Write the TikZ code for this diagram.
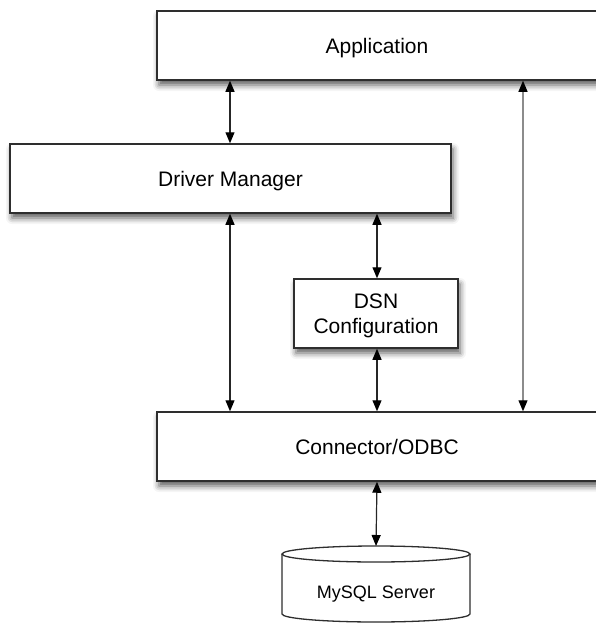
\documentclass[tikz,border=0pt]{standalone}
\usepackage{fontspec}
\setmainfont{Liberation Sans}
\usetikzlibrary{arrows.meta,shadows.blur}
\definecolor{edge}{HTML}{2E2E2E}
\tikzset{
  box/.style={draw=edge, line width=1.5pt, fill=white, inner sep=0pt,
    align=center, font=\fontsize{21}{25}\selectfont,
    blur shadow={shadow xshift=2pt, shadow yshift=-5pt, shadow blur radius=6pt, shadow opacity=65}},
  onel/.style={text height=15pt, text depth=0pt},
  tip/.style={Triangle[length=11pt,width=9pt,color=black]},
  arr/.style={draw=black!85, line width=1.2pt, {Triangle[length=11pt,width=9pt,color=black]}-{Triangle[length=11pt,width=9pt,color=black]}},
  lightarr/.style={arr, draw=black!45},
  lbl/.style={font=\fontsize{18}{22}\selectfont, inner sep=0pt, text height=13pt, text depth=0pt}
}
\begin{document}
\begin{tikzpicture}[x=1pt,y=-1pt]
\useasboundingbox (0,0) rectangle (595,624);
\node[box, onel, minimum width=440pt, minimum height=69pt] (app) at (377,45.5) {Application};
\node[box, onel, minimum width=441pt, minimum height=69pt] (dm) at (230.5,178.5) {Driver Manager};
\node[box, minimum width=164pt, minimum height=69pt] (dsn) at (376,313.5) {};
\node[font=\fontsize{21}{25}\selectfont, align=center, inner sep=0pt] (dsnt) at (376,316) {DSN\\Configuration};
\node[box, onel, minimum width=440pt, minimum height=69pt] (con) at (377,446.5) {Connector/ODBC};
% cylinder
\draw[draw=edge, line width=1.3pt, fill=white] (282,554) -- (282,614) arc[start angle=180, end angle=360, x radius=94pt, y radius=8pt] -- (470,554);
\draw[draw=edge, line width=1.3pt, fill=white] (376,554) ellipse [x radius=94pt, y radius=8pt];
\node[lbl] (db) at (376,592) {MySQL Server};
\coordinate (dbtop) at (376,546);
\coordinate (cA) at (230,0);
\coordinate (cB) at (377,0);
\coordinate (cC) at (523,0);
\draw[arr] (cA |- app.south) -- (cA |- dm.north);
\draw[arr] (cA |- dm.south) -- (cA |- con.north);
\draw[arr] (cB |- dm.south) -- (cB |- dsn.north);
\draw[arr] (cB |- dsn.south) -- (cB |- con.north);
\draw[lightarr] (cC |- app.south) -- (cC |- con.north);
\draw[arr] (cB |- con.south) -- (dbtop);
\end{tikzpicture}
\end{document}
